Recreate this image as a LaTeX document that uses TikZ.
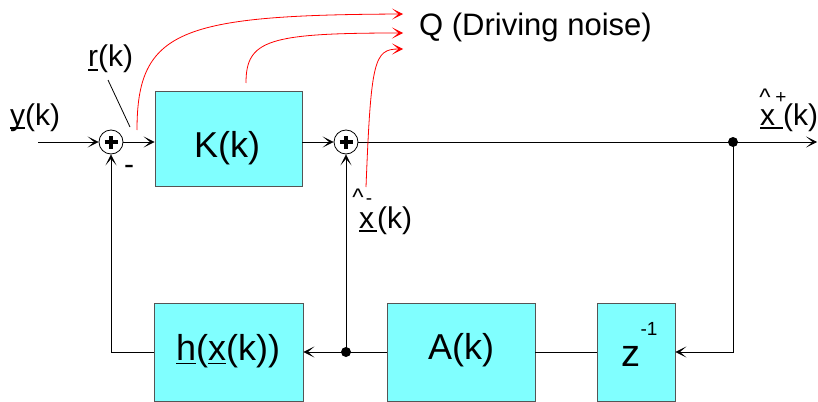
\documentclass[tikz,border=0pt]{standalone}
\usepackage{fontspec}
\setmainfont{Liberation Sans}
\usetikzlibrary{arrows.meta}
\definecolor{blkfill}{HTML}{80FFFF}
\definecolor{blkline}{HTML}{555555}
\newcommand\myul[1]{\setbox0\hbox{#1}\rlap{\rule[-4pt]{\wd0}{1.8pt}}\box0}
\begin{document}
\begin{tikzpicture}[x=1pt,y=-1pt,
  blk/.style={draw=blkline, fill=blkfill, line width=0.9pt, inner sep=0pt},
  btxt/.style={font=\fontsize{36}{40}\selectfont, inner sep=0pt},
  lbl/.style={font=\fontsize{30}{33}\selectfont, inner sep=0pt},
  smallt/.style={font=\fontsize{19}{22}\selectfont, inner sep=0pt},
  hatt/.style={font=\fontsize{24}{26}\selectfont, inner sep=0pt},
  sumc/.style={circle, draw, fill=white, minimum size=24pt, inner sep=0pt, line width=0.8pt},
  plusl/.style={line width=3.4pt, line cap=butt},
  conn/.style={line width=0.8pt},
  arr/.style={conn, -{Stealth[length=11pt,width=11pt,inset=6.5pt]}},
  rarr/.style={red, line width=0.8pt, -{Stealth[length=11pt,width=11pt,inset=6.5pt]}},
  dotm/.style={circle, fill, minimum size=10pt, inner sep=0pt}
]
\clip (0,0) rectangle (818,401);
\fill[white] (0,0) rectangle (818,401);

% blocks
\node[blk, minimum width=147pt, minimum height=95pt] (K) at (228.5,138.5) {};
\node[blk, minimum width=149pt, minimum height=98pt] (h) at (228.5,352) {};
\node[blk, minimum width=148pt, minimum height=98pt] (A) at (461,352) {};
\node[blk, minimum width=78pt, minimum height=98pt] (z) at (636,352) {};

\node[btxt] (Kt) at (227,148) {K(k)};
\node[btxt] (ht) at (228,351) {\myul{h}(\myul{x}(k))};
\node[btxt] (At) at (461,350) {A(k)};
\node[btxt, font=\fontsize{38}{40}\selectfont, anchor=base] (zt) at (631,366) {z};
\node[smallt] (zexp) at (649,329) {-1};

% summing junctions
\node[sumc] (s1) at (111,142) {};
\node[sumc] (s2) at (346,142) {};
\draw[plusl] ([xshift=-6.5pt]s1.center) -- ([xshift=6.5pt]s1.center);
\draw[plusl] ([yshift=-6.5pt]s1.center) -- ([yshift=6.5pt]s1.center);
\draw[plusl] ([xshift=-6.5pt]s2.center) -- ([xshift=6.5pt]s2.center);
\draw[plusl] ([yshift=-6.5pt]s2.center) -- ([yshift=6.5pt]s2.center);

% coordinates
\coordinate (yin) at (38,142);
\coordinate (outend) at (817,142);
\node[dotm] (d1) at (733,142) {};
\node[dotm] (d2) at (346,352) {};

% connectors
\draw[arr] (yin) -- (s1);
\draw[arr] (s1) -- (s1 -| K.west);
\draw[arr] (s1 -| K.east) -- (s2);
\draw[arr] (s2) -- (outend);
\draw[arr] (d1.center) |- (z.east);
\draw[conn] (z.west) -- (A.east);
\draw[arr] (A.west) -- (h.east);
\draw[arr] (d2.center) -- (s2);
\draw[arr] (h.west) -| (s1);

% labels
\node[lbl, anchor=base west] (ylab) at (10,125) {\myul{y}(k)};
\node[lbl, anchor=base west] (rlab) at (88,67) {\myul{r}(k)};
\coordinate (rp1) at (108,80);
\coordinate (rp2) at (130,127);
\draw[conn] (rp1) -- (rp2);
\node[lbl] (minus) at (129,170) {-};

\node[lbl, anchor=base west] (xmlab) at (359,228) {\myul{x\hspace{3pt}}(k)};
\node[hatt] (xmhat) at (358,197) {\textasciicircum};
\node[smallt] (xmmin) at (369,202) {-};

\node[lbl, anchor=base west] (xplab) at (760,125) {\myul{x\hspace{8pt}}(k)};
\node[hatt] (xphat) at (765,97) {\textasciicircum};
\node[smallt] (xpplus) at (781,98) {+};

\node[lbl, font=\fontsize{31}{34}\selectfont, anchor=base west] (Q) at (419,36) {Q (Driving noise)};

% red noise arrows
\coordinate (n1s) at (137,130);
\coordinate (n1e) at (403,14);
\coordinate (n2s) at (246,83);
\coordinate (n2e) at (403,33);
\coordinate (n3s) at (366,187);
\coordinate (n3e) at (403,49);
\draw[rarr] (n1s) .. controls (137,30) and (180,15) .. (n1e);
\draw[rarr] (n2s) .. controls (246,40) and (268,33) .. (n2e);
\draw[rarr] (n3s) .. controls (371,60) and (374,49) .. (n3e);
\end{tikzpicture}
\end{document}
